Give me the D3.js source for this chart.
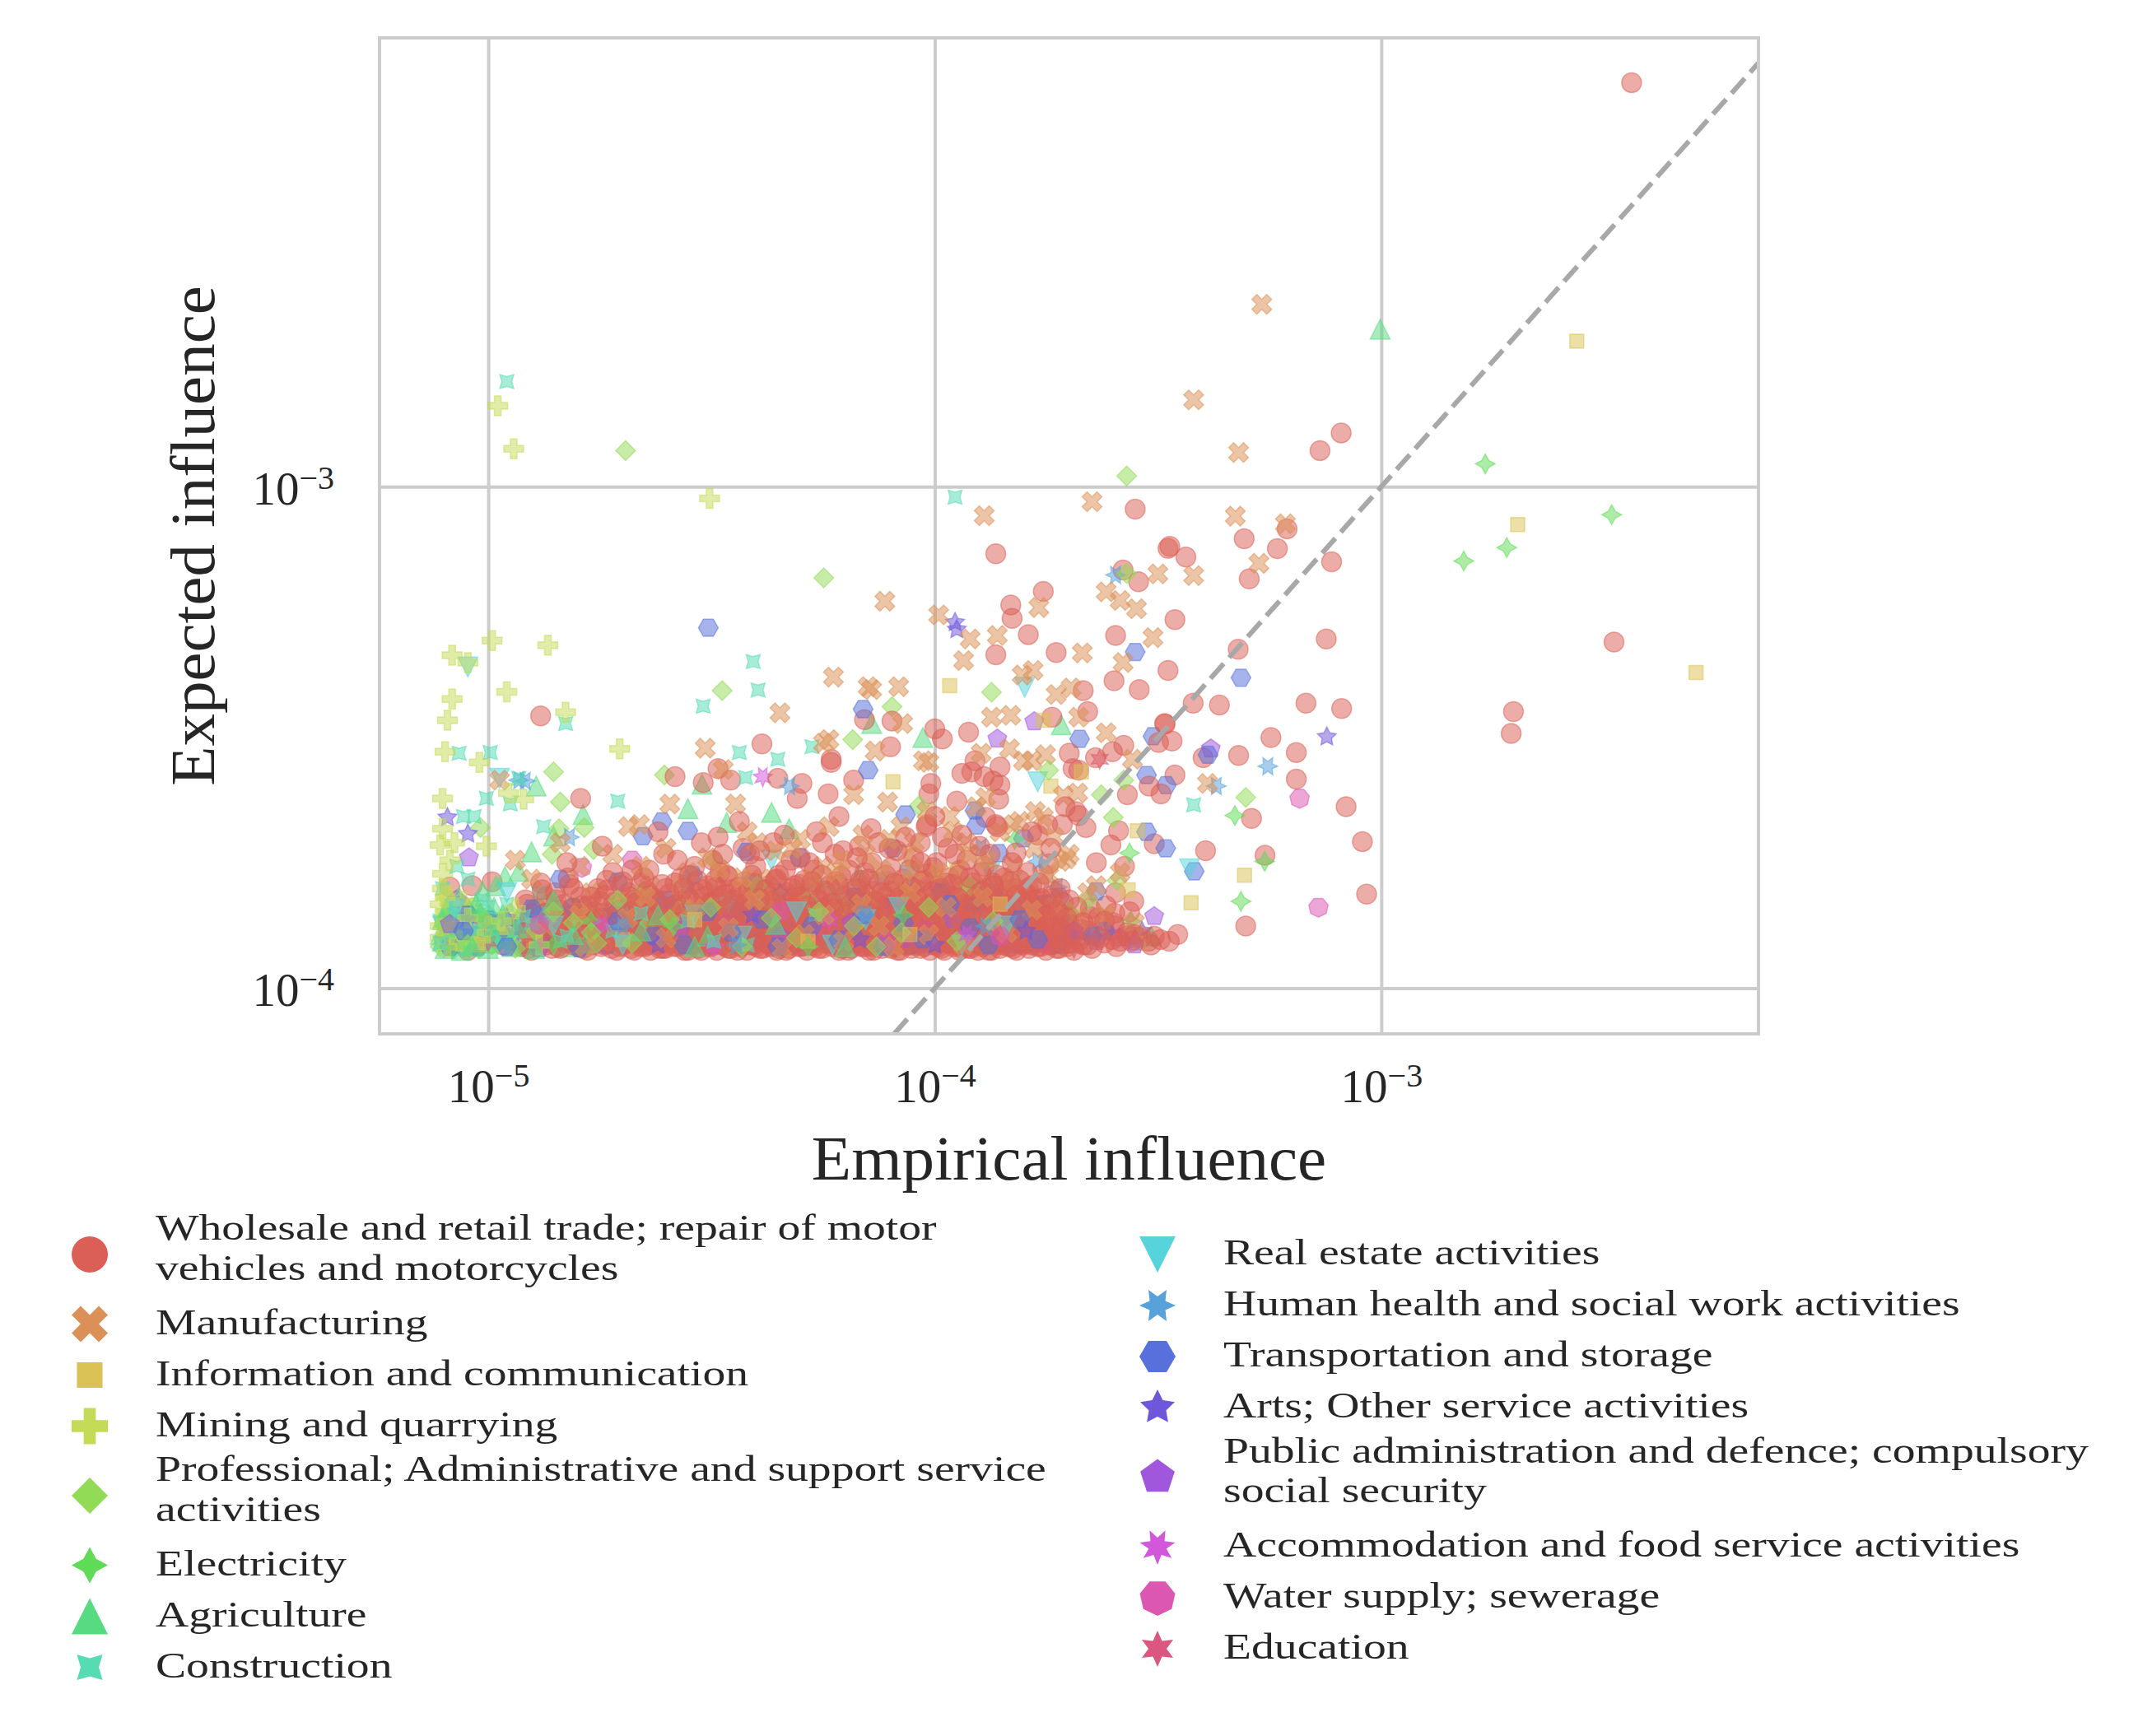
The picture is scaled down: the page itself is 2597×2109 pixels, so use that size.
<!DOCTYPE html>
<html>
<head>
<meta charset="utf-8">
<script src="https://cdn.jsdelivr.net/npm/d3@7"></script>
<style>
body { margin: 0; background: #fff; }
text { font-family: "Liberation Serif", "DejaVu Serif", serif; fill: #262626; }
</style>
</head>
<body>
<script>
// values
// each point is [empirical influence in units of 1e-5, expected influence in units of 1e-4]
const wholesale = [
  [363.6,63.9],[81.3,12.8],[72.9,11.8],[28.1,9.02],[61.5,8.24],[49.3,7.87],[58.5,7.52],[77.4,7.08],[13.7,7.35],
  [33.6,7.60],[33.3,7.53],[36.5,7.24],[50.6,6.55],[26.4,6.82],[28.6,6.46],[17.5,6.18],[14.8,5.81],[14.9,5.46],
  [34.5,5.43],[16.2,5.07],[25.4,5.05],[13.7,4.62],[18.7,4.67],[75.3,4.97],[47.8,4.74],[33.3,4.30],[25.2,4.10],
  [28.7,3.94],[21.5,3.92],[332,4.90],[197.7,3.56],[195.4,3.22],[37.9,3.70],[43.4,3.67],[67.8,3.70],[81.5,3.61],
  [32.8,3.36],[22.0,3.56],[18.3,3.47],
  [56.6,3.16],[64.5,2.95],[64.5,2.61],[47.9,2.91],[39.9,2.88],[83.4,2.30],[51.2,2.18],[90.7,1.96],[92.7,1.54],
  [49.7,1.33],[40.4,1.88],[54.9,1.84],[32.7,3.37],[31.7,3.09],[34.0,3.11],[26.5,3.05],[25.0,2.96],[22.9,2.88],
  [20.0,2.94],[20.4,2.74],[21.0,2.72],[34.5,2.66],[30.2,2.53],[32.1,2.44],[27.0,2.43],[25.8,2.06],[24.8,1.93],
  [31.0,1.94],[26.6,1.75],[23.0,1.78],[25.4,1.55],[27.9,1.49],[24.2,1.46],[25.3,1.41],[25.1,1.35],[26.9,1.27],
  [30.1,1.24],[22.3,1.44],[22.3,1.39],[20.7,2.25],[21.0,2.21],[21.8,2.09],[19.3,2.12],[17.9,2.12],[17.0,2.02],
  [17.5,1.69],[18.0,1.77],[17.3,1.51],[16.2,1.50],[17.6,1.40],[16.4,1.34],[16.8,1.25],[20.0,1.39],[14.4,1.23],
  [11.9,3.24],[10.4,3.14],[10.0,3.29],[11.5,2.68],[12.1,2.70],[12.3,2.84],[14.0,2.76],[12.9,2.64],[13.5,2.59],
  [14.0,2.54],[13.9,2.38],[9.8,2.56],[9.7,2.44],[11.2,2.36],[9.6,2.12],[13.7,2.12],[13.0,2.19],
  [1.31,3.49],[4.10,3.07],[1.61,2.39],[2.62,2.64],[3.03,2.57],[3.27,2.74],[3.49,2.60],[4.45,2.62],[5.04,2.56],
  [4.92,2.39],[6.58,2.60],[5.77,2.44],[7.96,3.03],[5.86,2.86],[5.86,2.82],[6.96,3.43],[8.02,3.41],
  [0.82,1.59],[0.92,1.60],[1.02,1.63],[0.87,1.46],[0.80,1.25],[0.95,1.34],[1.08,1.22],
  [0.90,1.19],[2.80,1.19],[7.30,1.19],[12.5,1.19],
  [1.19,1.21],[1.22,1.27],[1.18,1.36],[1.21,1.50],[1.29,1.24],[1.32,1.31],[1.28,1.44],[1.31,1.62],
  [1.39,1.20],[1.42,1.28],[1.38,1.39],[1.41,1.55],[1.49,1.23],[1.52,1.33],[1.48,1.47],[1.51,1.66],
  [1.59,1.21],[1.62,1.26],[1.58,1.37],[1.61,1.52],[1.74,1.24],[1.77,1.30],[1.73,1.42],[1.76,1.58],
  [1.89,1.20],[1.92,1.27],[1.88,1.35],[1.91,1.48],[1.90,1.70],[2.04,1.23],[2.07,1.31],[2.03,1.40],[2.06,1.55],
  [2.19,1.21],[2.22,1.26],[2.18,1.34],[2.21,1.45],[2.20,1.62],[2.34,1.24],[2.37,1.29],[2.33,1.38],[2.36,1.51],
  [2.49,1.20],[2.52,1.27],[2.48,1.33],[2.51,1.43],[2.50,1.58],[2.47,1.85],
  [2.69,1.22],[2.72,1.30],[2.68,1.37],[2.71,1.49],[2.70,1.66],[2.89,1.25],[2.92,1.32],[2.88,1.41],[2.91,1.55],[2.90,1.75],
  [3.09,1.21],[3.12,1.28],[3.08,1.36],[3.11,1.46],[3.10,1.60],[3.29,1.23],[3.32,1.30],[3.28,1.39],[3.31,1.52],[3.30,1.70],[3.27,2.00],
  [3.49,1.20],[3.52,1.26],[3.48,1.34],[3.51,1.44],[3.50,1.57],[3.74,1.24],[3.77,1.31],[3.73,1.38],[3.76,1.49],[3.75,1.63],[3.72,1.90],
  [3.99,1.21],[4.02,1.27],[3.98,1.35],[4.01,1.42],[4.00,1.55],[3.97,1.75],[4.24,1.23],[4.27,1.30],[4.23,1.37],[4.26,1.47],[4.25,1.60],
  [4.49,1.20],[4.52,1.26],[4.48,1.33],[4.51,1.40],[4.50,1.52],[4.47,1.68],[4.79,1.22],[4.82,1.29],[4.78,1.36],[4.81,1.45],[4.80,1.58],[4.77,1.80],
  [5.09,1.25],[5.12,1.31],[5.08,1.39],[5.11,1.50],[5.10,1.64],[5.39,1.21],[5.42,1.27],[5.38,1.34],[5.41,1.43],[5.40,1.55],[5.37,1.72],[5.43,2.05],
  [5.79,1.23],[5.82,1.30],[5.78,1.37],[5.81,1.47],[5.80,1.60],[6.19,1.20],[6.22,1.26],[6.18,1.33],[6.21,1.41],[6.20,1.52],[6.17,1.67],[6.23,1.88],
  [6.59,1.24],[6.62,1.29],[6.58,1.36],[6.61,1.45],[6.60,1.57],[6.99,1.21],[7.02,1.28],[6.98,1.35],[7.01,1.42],[7.00,1.54],[6.97,1.70],
  [7.49,1.23],[7.52,1.31],[7.48,1.38],[7.51,1.48],[7.50,1.62],[7.47,1.95],[7.99,1.20],[8.02,1.27],[7.98,1.34],[8.01,1.44],[8.00,1.56],[7.97,1.74],
  [8.49,1.25],[8.52,1.30],[8.48,1.37],[8.51,1.50],[8.50,1.65],[8.99,1.22],[9.02,1.28],[8.98,1.35],[9.01,1.46],[9.00,1.58],[8.97,1.82],
  [9.59,1.24],[9.62,1.32],[9.58,1.40],[9.61,1.53],[9.60,1.69],[9.57,2.10],
  [10.2,1.21],[10.3,1.27],[10.1,1.36],[10.2,1.45],[10.2,1.60],[10.1,1.78],[10.8,1.23],[10.9,1.30],[10.7,1.39],[10.8,1.50],[10.8,1.66],[10.7,1.90],
  [11.5,1.20],[11.6,1.26],[11.4,1.34],[11.5,1.43],[11.5,1.56],[11.4,1.72],[12.2,1.24],[12.3,1.31],[12.1,1.38],[12.2,1.49],[12.2,1.62],
  [13.0,1.22],[13.1,1.28],[12.9,1.36],[13.0,1.46],[13.0,1.58],[12.9,1.75],[13.8,1.25],[13.9,1.32],[13.7,1.41],[13.8,1.53],[13.8,1.68],
  [14.6,1.21],[14.7,1.27],[14.5,1.35],[14.6,1.44],[14.6,1.57],[15.5,1.23],[15.6,1.30],[15.4,1.39],[15.5,1.50],[15.5,1.64],
  [16.5,1.22],[16.6,1.28],[16.4,1.37],[16.5,1.47],[16.5,1.60],[17.5,1.25],[17.6,1.33],[17.4,1.42],
  [18.5,1.23],[18.6,1.30],[18.4,1.56],[19.5,1.26],[19.6,1.36],[19.4,1.48],[21.0,1.24],[21.2,1.31],[20.8,1.45],
  [23.0,1.27],[23.2,1.38],[25.0,1.25],[25.3,1.33],[27.0,1.29],[27.3,1.42],[29.0,1.26],[32.0,1.25],[35.0,1.28],
  [1.25,1.19],[1.26,1.25],[1.24,1.33],[1.25,1.41],[1.35,1.22],[1.36,1.29],[1.34,1.35],[1.35,1.52],
  [1.45,1.20],[1.46,1.26],[1.44,1.36],[1.45,1.43],[1.55,1.22],[1.56,1.30],[1.54,1.40],[1.55,1.58],
  [1.67,1.19],[1.68,1.24],[1.66,1.33],[1.67,1.46],[1.82,1.22],[1.83,1.28],[1.81,1.38],[1.82,1.53],[1.84,1.64],
  [1.97,1.21],[1.98,1.25],[1.96,1.33],[1.97,1.43],[1.99,1.60],[2.12,1.19],[2.13,1.29],[2.11,1.37],[2.12,1.50],
  [2.27,1.22],[2.28,1.31],[2.26,1.41],[2.27,1.56],[2.29,1.72],[2.42,1.20],[2.43,1.25],[2.41,1.36],[2.42,1.47],
  [2.60,1.21],[2.61,1.28],[2.59,1.35],[2.60,1.46],[2.62,1.62],[2.80,1.23],[2.81,1.27],[2.79,1.39],[2.80,1.52],[2.82,1.68],
  [3.00,1.19],[3.01,1.26],[3.00,1.33],[2.99,1.43],[3.02,1.57],[3.20,1.22],[3.21,1.29],[3.19,1.37],[3.20,1.49],[3.22,1.64],[3.18,1.80],
  [3.40,1.21],[3.41,1.28],[3.39,1.40],[3.40,1.54],[3.42,1.68],[3.62,1.19],[3.63,1.27],[3.61,1.34],[3.62,1.46],[3.64,1.59],
  [3.87,1.22],[3.88,1.29],[3.86,1.39],[3.87,1.52],[3.89,1.68],[3.85,1.85],[4.12,1.20],[4.13,1.25],[4.11,1.32],[4.12,1.44],[4.14,1.57],
  [4.37,1.22],[4.38,1.28],[4.36,1.39],[4.37,1.50],[4.39,1.64],[4.35,1.95],[4.65,1.19],[4.66,1.24],[4.64,1.31],[4.65,1.42],[4.67,1.55],[4.63,1.72],
  [4.95,1.21],[4.96,1.27],[4.94,1.37],[4.95,1.48],[4.97,1.61],[5.25,1.23],[5.26,1.29],[5.24,1.36],[5.25,1.46],[5.27,1.58],[5.23,1.78],
  [5.60,1.20],[5.61,1.25],[5.59,1.33],[5.60,1.44],[5.62,1.53],[5.58,1.68],[6.00,1.22],[6.01,1.28],[5.99,1.35],[6.00,1.48],[6.02,1.63],[5.98,1.85],
  [6.40,1.19],[6.41,1.27],[6.39,1.38],[6.40,1.50],[6.42,1.72],[6.80,1.23],[6.81,1.31],[6.79,1.39],[6.80,1.49],[6.82,1.64],[6.78,1.92],
  [7.25,1.21],[7.26,1.26],[7.24,1.33],[7.25,1.45],[7.27,1.56],[7.23,1.78],[7.75,1.22],[7.76,1.29],[7.74,1.41],[7.75,1.52],[7.77,1.68],
  [8.25,1.19],[8.26,1.24],[8.24,1.32],[8.25,1.47],[8.27,1.61],[8.23,1.88],[8.75,1.22],[8.76,1.27],[8.74,1.40],[8.75,1.54],[8.77,1.72],
  [9.30,1.20],[9.31,1.26],[9.29,1.37],[9.30,1.49],[9.32,1.63],[9.28,1.95],[9.90,1.22],[9.91,1.30],[9.89,1.42],[9.90,1.56],[9.92,1.74],
  [10.5,1.19],[10.5,1.25],[10.5,1.33],[10.5,1.48],[10.6,1.62],[10.4,2.00],[11.2,1.22],[11.2,1.29],[11.2,1.40],[11.2,1.52],[11.3,1.68],[11.1,1.85],
  [11.9,1.20],[11.9,1.27],[11.9,1.35],[11.9,1.46],[12.0,1.59],[11.8,1.80],[12.6,1.22],[12.6,1.29],[12.6,1.42],[12.6,1.55],[12.7,1.70],
  [13.4,1.19],[13.4,1.26],[13.4,1.34],[13.4,1.49],[13.5,1.62],[13.3,1.85],[14.2,1.22],[14.2,1.30],[14.2,1.39],[14.2,1.52],[14.3,1.66],
  [15.0,1.20],[15.0,1.27],[15.0,1.35],[15.0,1.45],[15.1,1.58],[14.9,1.78],[16.0,1.23],[16.0,1.31],[16.0,1.42],[16.0,1.55],[16.1,1.70],
  [17.0,1.21],[17.0,1.28],[17.0,1.36],[17.0,1.50],[17.1,1.62],[18.0,1.22],[18.0,1.27],[18.0,1.38],[18.0,1.47],
  [19.0,1.20],[19.0,1.29],[19.0,1.41],[19.1,1.58],[20.0,1.23],[20.0,1.34],[20.0,1.50],
  [22.0,1.22],[22.0,1.30],[24.0,1.23],[24.0,1.36],[26.0,1.24],[28.0,1.28],[30.5,1.22],[33.5,1.24],
  [1.23,1.20],[1.23,1.29],[1.24,1.38],[1.22,1.47],[1.33,1.23],[1.33,1.32],[1.34,1.41],[1.32,1.57],
  [1.43,1.21],[1.43,1.31],[1.44,1.34],[1.42,1.50],[1.53,1.24],[1.53,1.27],[1.54,1.44],[1.52,1.61],
  [1.63,1.20],[1.63,1.30],[1.64,1.39],[1.62,1.46],[1.71,1.22],[1.71,1.33],[1.72,1.36],[1.70,1.52],
  [1.79,1.21],[1.79,1.26],[1.80,1.41],[1.78,1.49],[1.86,1.24],[1.86,1.31],[1.87,1.37],[1.85,1.57],
  [1.94,1.19],[1.94,1.29],[1.95,1.39],[1.93,1.46],[2.01,1.22],[2.01,1.27],[2.02,1.35],[2.00,1.63],
  [2.09,1.20],[2.09,1.32],[2.10,1.42],[2.08,1.52],[2.16,1.23],[2.16,1.28],[2.17,1.38],[2.15,1.48],
  [2.24,1.21],[2.24,1.30],[2.25,1.36],[2.23,1.66],[2.31,1.19],[2.31,1.26],[2.32,1.43],[2.30,1.53],
  [2.39,1.22],[2.39,1.33],[2.40,1.40],[2.38,1.49],[2.46,1.20],[2.46,1.29],[2.47,1.37],[2.45,1.61],
  [2.55,1.23],[2.55,1.31],[2.56,1.44],[2.54,1.54],[2.65,1.21],[2.65,1.27],[2.66,1.35],[2.64,1.47],
  [2.75,1.19],[2.75,1.32],[2.76,1.41],[2.74,1.58],[2.85,1.22],[2.85,1.28],[2.86,1.37],[2.84,1.50],
  [2.95,1.20],[2.95,1.30],[2.96,1.43],[2.94,1.64],[3.05,1.23],[3.05,1.26],[3.06,1.39],[3.04,1.52],
  [3.15,1.21],[3.15,1.33],[3.16,1.35],[3.14,1.48],[3.25,1.19],[3.25,1.27],[3.26,1.42],[3.24,1.59],
  [3.35,1.22],[3.35,1.31],[3.36,1.38],[3.34,1.53],[3.45,1.20],[3.45,1.28],[3.46,1.45],[3.44,1.67],
  [3.56,1.23],[3.56,1.32],[3.57,1.36],[3.55,1.50],[3.68,1.21],[3.68,1.26],[3.69,1.41],[3.67,1.55],
  [3.80,1.19],[3.80,1.30],[3.81,1.37],[3.79,1.47],[3.93,1.22],[3.93,1.33],[3.94,1.43],[3.92,1.62],
  [4.06,1.20],[4.06,1.28],[4.07,1.39],[4.05,1.51],[4.19,1.23],[4.19,1.31],[4.20,1.35],[4.18,1.57],
  [4.31,1.21],[4.31,1.27],[4.32,1.44],[4.30,1.49],[4.43,1.19],[4.43,1.32],[4.44,1.38],[4.42,1.65],
  [4.57,1.22],[4.57,1.29],[4.58,1.41],[4.56,1.53],[4.72,1.20],[4.72,1.26],[4.73,1.36],[4.71,1.48],
  [4.87,1.23],[4.87,1.33],[4.88,1.43],[4.86,1.60],[5.02,1.21],[5.02,1.28],[5.03,1.38],[5.01,1.52],
  [5.17,1.19],[5.17,1.30],[5.18,1.35],[5.16,1.46],[5.32,1.22],[5.32,1.26],[5.33,1.42],[5.31,1.63],
  [5.50,1.20],[5.50,1.32],[5.51,1.39],[5.49,1.50],[5.70,1.23],[5.70,1.28],[5.71,1.36],[5.69,1.56],
  [5.90,1.21],[5.90,1.31],[5.91,1.44],[5.89,1.48],[6.10,1.19],[6.10,1.27],[6.11,1.37],[6.09,1.61],
  [6.30,1.22],[6.30,1.33],[6.31,1.40],[6.29,1.53],[6.50,1.20],[6.50,1.29],[6.51,1.35],[6.49,1.47],
  [6.70,1.23],[6.70,1.26],[6.71,1.43],[6.69,1.58],[6.90,1.21],[6.90,1.32],[6.91,1.38],[6.89,1.51],
  [7.12,1.19],[7.12,1.28],[7.13,1.41],[7.11,1.65],[7.37,1.22],[7.37,1.30],[7.38,1.36],[7.36,1.49],
  [7.62,1.20],[7.62,1.27],[7.63,1.44],[7.61,1.55],[7.87,1.23],[7.87,1.33],[7.88,1.39],[7.86,1.47],
  [8.12,1.21],[8.12,1.29],[8.13,1.35],[8.11,1.62],[8.37,1.19],[8.37,1.26],[8.38,1.42],[8.36,1.52],
  [8.62,1.22],[8.62,1.31],[8.63,1.37],[8.61,1.48],[8.87,1.20],[8.87,1.28],[8.88,1.43],[8.86,1.59],
  [9.15,1.23],[9.15,1.32],[9.16,1.38],[9.14,1.50],[9.45,1.21],[9.45,1.27],[9.46,1.41],[9.44,1.64],
  [9.75,1.19],[9.75,1.30],[9.76,1.36],[9.74,1.47],[10.05,1.22],[10.05,1.33],[10.1,1.44],[10.0,1.53],
  [10.35,1.20],[10.35,1.28],[10.4,1.39],[10.3,1.58],[10.65,1.23],[10.65,1.26],[10.7,1.35],[10.6,1.49],
  [11.0,1.21],[11.0,1.31],[11.05,1.42],[10.95,1.61],[11.35,1.19],[11.35,1.29],[11.4,1.37],[11.3,1.51],
  [11.7,1.22],[11.7,1.27],[11.75,1.43],[11.65,1.47],[12.05,1.20],[12.05,1.32],[12.1,1.38],[12.0,1.66],
  [12.4,1.23],[12.4,1.30],[12.45,1.36],[12.35,1.52],[12.8,1.21],[12.8,1.26],[12.85,1.41],[12.75,1.56],
  [13.2,1.19],[13.2,1.33],[13.25,1.39],[13.15,1.48],[13.6,1.22],[13.6,1.28],[13.65,1.44],[13.55,1.60],
  [14.0,1.20],[14.0,1.31],[14.05,1.35],[13.95,1.51],[14.4,1.23],[14.4,1.27],[14.45,1.42],[14.35,1.47],
  [14.8,1.21],[14.8,1.32],[14.85,1.38],[14.75,1.63],[15.25,1.19],[15.25,1.29],[15.3,1.43],[15.2,1.53],
  [15.75,1.22],[15.75,1.26],[15.8,1.36],[15.7,1.48],[16.25,1.20],[16.25,1.33],[16.3,1.40],[16.2,1.58],
  [16.75,1.23],[16.75,1.28],[16.8,1.37],[16.7,1.50],[17.25,1.21],[17.25,1.30],[17.3,1.44],
  [17.75,1.19],[17.75,1.27],[17.8,1.39],[18.25,1.22],[18.25,1.32],[18.3,1.51],[18.75,1.20],[18.75,1.26],[18.8,1.43],
  [19.25,1.23],[19.25,1.31],[19.75,1.21],[19.75,1.38],[20.5,1.19],[20.5,1.28],[21.5,1.22],[21.5,1.35],
  [22.5,1.20],[23.5,1.26],[25.5,1.21],[27.5,1.24],[31.0,1.27],
  [1.5,1.78],[1.8,1.92],[2.1,1.72],[2.4,2.05],[2.65,1.80],[3.0,1.95],[3.35,1.85],[3.65,2.15],[4.05,1.88],
  [4.6,2.02],[5.0,1.82],[5.6,1.95],[6.1,2.20],[6.7,1.82],[7.2,2.08],[7.9,1.90],[8.6,2.00],[9.3,1.78],
  [10.0,2.20],[11.5,2.02],[12.6,1.92],[13.8,2.10],[15.2,1.86],[16.5,2.05],[18.2,1.90],[19.6,2.30]
]
const manufacturing = [
  [54.0,23.1],[38.0,14.9],[47.9,11.7],[12.9,8.75],[22.5,9.33],[47.1,8.73],[61.0,8.43],[53.2,7.03],[31.6,6.70],
  [38.0,6.65],[24.2,6.17],[26.0,5.93],[28.3,5.71],[17.1,5.74],[10.2,5.55],[12.0,4.97],[13.8,5.05],[30.8,5.00],
  [11.6,4.50],[21.4,4.66],[26.4,4.46],[16.6,4.30],[15.7,4.21],[18.7,3.85],[20.2,3.97],
  [13.4,3.47],[14.8,3.50],[21.0,3.47],[24.2,3.23],[12.7,2.94],[14.7,3.00],[15.8,2.84],[16.5,2.84],[17.7,2.92],
  [9.7,2.82],[27.7,2.86],[40.8,2.56],[19.4,2.42],[20.9,2.45],[15.0,2.12],[17.5,2.19],[19.7,1.81],[19.1,1.79],[19.9,1.32],
  [3.06,3.01],[4.50,3.54],[5.93,4.17],[7.09,3.99],[7.22,3.94],[8.30,3.99],[7.73,5.91],[8.47,3.37],[7.35,2.97],
  [5.79,3.13],[5.63,3.08],[2.55,2.33],[1.06,2.60],[3.36,2.73],[3.58,2.33],[2.18,2.12],[2.06,2.10],[6.58,2.43],
  [7.84,2.35],[9.43,2.84],
  [1.1,1.25],[1.3,1.42],[1.5,1.29],[1.7,1.55],[1.8,1.36],[2.0,1.48],[2.1,1.27],[2.3,1.60],[2.4,1.34],[2.6,1.45],
  [2.8,1.28],[2.8,1.70],[3.0,1.38],[3.2,1.56],[3.4,1.25],[3.6,1.47],[3.9,1.33],[4.1,1.65],[4.3,1.42],[4.6,1.28],
  [4.9,1.53],[5.2,1.36],[5.6,1.75],[5.9,1.45],[6.4,1.30],[6.8,1.60],[7.2,1.40],[7.7,1.26],[8.2,1.52],[8.7,1.85],
  [9.3,1.38],[9.9,1.66],[10.5,1.30],[11.2,1.48],[11.8,1.95],[12.6,1.42],[13.4,1.62],[14.2,1.33],[15.0,1.75],
  [16.0,1.52],[17.0,1.40],[18.0,1.68],[19.0,1.32],[20.0,1.85],[22.0,1.55],[24.0,1.40],[26.0,1.70],[28.0,1.35],
  [2.5,1.90],[3.1,1.82],[3.8,2.05],[4.4,1.88],[5.0,1.98],[6.2,1.80],[6.9,2.02],[7.6,1.72],[8.4,2.10],[9.0,1.95],
  [1.6,1.75],[1.25,1.65],[10.8,2.20],[12.4,2.30],[14.0,2.05],[16.8,2.25],[1.15,1.80],[1.45,1.95],[1.9,1.85],
  [1.35,1.33],[1.6,1.40],[1.9,1.24],[2.15,1.45],[2.45,1.22],[2.7,1.58],[2.95,1.30],[3.25,1.45],[3.55,1.22],
  [3.85,1.58],[4.15,1.36],[4.4,1.52],[4.7,1.24],[5.0,1.41],[5.3,1.65],[5.7,1.32],[6.1,1.55],[6.6,1.40],[7.0,1.85],
  [7.4,1.50],[7.9,1.38],[8.4,1.62],[8.9,1.30],[9.5,1.50],[10.2,1.70],[10.9,1.40],[11.6,1.58],[12.3,1.36],[13.1,1.80],
  [13.9,1.47],[14.8,1.62],[15.7,1.38],[16.7,1.90],[18.5,1.45],[21.0,1.38],[23.0,1.60],[4.0,1.95],[5.8,2.10],
  [3.3,1.72],[2.2,1.75],[9.6,2.25],[11.0,2.05],[13.0,2.40],[15.5,2.15],[18.5,2.00],
  [1.65,1.21],[2.05,1.38],[2.5,1.26],[2.9,1.44],[3.45,1.32],[3.95,1.50],[4.55,1.20],[5.1,1.28],[5.65,1.40],
  [6.25,1.24],[6.85,1.47],[7.5,1.33],[8.1,1.21],[8.8,1.55],[9.7,1.28],[10.6,1.45],[11.6,1.22],[12.8,1.52],
  [14.5,1.29],[16.5,1.43],[2.25,1.52],[3.7,1.66],[6.0,1.70],[9.0,1.72],[12.0,1.85],[4.8,1.90],[7.9,1.98]
]
const information = [
  [274,19.5],[202,8.40],[507,4.26],[10.8,4.01],[17.5,3.42],[18.2,2.53],[21.3,2.70],[28.4,2.06],[49.4,1.68],
  [37.5,1.48],[27.1,1.57],[15.4,1.25],[13.1,1.42],[28.6,1.23],[11.2,1.72],[8.06,2.58],[6.0,1.27],[2.6,1.36],
  [12.0,1.30],[4.2,1.50],[1.6,1.43],[1.1,1.32],[2.0,1.25],[3.6,1.24],[7.0,1.35],[9.8,1.40],[16.0,1.36],
  [0.95,1.22],[2.9,1.37],[5.2,1.24],[8.8,1.28],[14.0,1.47]
]
const mining = [
  [1.05,14.5],[1.14,11.9],[3.13,9.47],[0.83,4.61],[0.90,4.46],[1.02,4.93],[1.36,4.83],[0.83,3.77],[1.10,3.90],
  [0.81,3.42],[1.49,3.55],[0.80,2.96],[0.955,2.82],[1.97,3.00],[0.79,2.39],[1.11,2.45],[1.20,2.38],[0.79,2.08],
  [0.78,1.93],[0.84,1.95],[0.99,1.92],[0.79,1.69],[0.78,1.47],[2.67,1.42],[1.24,1.26],[0.80,1.35],[0.85,1.22],
  [0.92,1.28],[0.79,1.58],[0.82,1.80],[0.78,1.26],[0.80,1.42],[0.83,1.30],[0.88,1.49],[1.0,1.33],[1.3,1.22],[0.81,1.21],
  [0.78,1.33],[0.82,1.48],[0.86,1.24],[0.9,1.38],[0.96,1.25],[1.07,1.36],[1.15,1.44],[0.8,1.52]
]
const professional = [
  [2.03,11.8],[26.9,10.5],[13.4,3.89],[26.9,6.71],[49.7,2.40],[5.64,6.58],[3.34,3.92],[8.02,3.64],[6.55,3.13],
  [1.40,2.70],[2.48,2.66],[1.45,2.35],[1.64,2.09],[1.44,2.08],[0.96,2.09],[1.39,1.85],[1.72,1.89],[3.21,1.80],
  [9.22,2.31],[18.0,2.72],[23.6,2.43],[26.5,2.60],[25.1,2.19],[25.6,1.64],[22.0,1.50],[13.5,1.25],
  [0.82,1.24],[0.88,1.31],[0.95,1.20],[1.0,1.40],[1.08,1.27],[1.18,1.35],[1.25,1.22],[1.35,1.48],[1.45,1.30],
  [1.6,1.25],[1.7,1.42],[1.85,1.33],[2.0,1.21],[2.2,1.55],[2.4,1.28],[2.6,1.40],[2.9,1.24],[3.2,1.35],[3.5,1.50],
  [3.8,1.27],[4.2,1.45],[4.6,1.22],[5.0,1.32],[5.5,1.60],[6.0,1.38],[6.5,1.24],[7.2,1.47],[7.8,1.30],[8.6,1.42],
  [9.5,1.25],[10.5,1.55],[11.5,1.36],[13.0,1.28],[14.5,1.46],[16.0,1.33],[18.0,1.25],[20.0,1.42],
  [0.78,1.21],[0.85,1.38],[0.92,1.45],[1.02,1.22],[1.12,1.41],[1.28,1.30],[1.55,1.35],[1.75,1.23],[1.95,1.50],
  [2.3,1.35],[2.75,1.45],[3.05,1.28],[3.45,1.22],[4.0,1.60],[4.4,1.30],[5.2,1.50],[5.7,1.22],[6.3,1.45],[7.0,1.29],
  [8.2,1.38],[9.2,1.27],[10.8,1.35],[12.0,1.60],[15.5,1.26],
  [1.15,1.20],[1.4,1.42],[1.7,1.29],[2.1,1.23],[2.55,1.37],[3.15,1.45],[3.7,1.21],[4.3,1.38],[4.9,1.26],
  [5.5,1.42],[6.6,1.33],[7.4,1.21],[8.4,1.29],[9.7,1.45],[11.2,1.24],[13.5,1.36],[0.8,1.33],[0.9,1.22],[0.98,1.37]
]
const electricity = [
  [171,11.1],[328,8.79],[191,7.56],[153,7.11],[47.0,2.21],[54.8,1.79],[48.5,1.49],[27.3,1.86],[27.5,1.36],
  [15.1,1.98],[1.3,1.30],[3.0,1.45],[6.0,1.33],[12.0,1.50],[0.9,1.26],[2.2,1.22],
  [0.80,1.38],[1.05,1.22],[1.7,1.36],[4.6,1.40],[9.0,1.30],
  [0.83,1.20],[0.96,1.41],[1.4,1.22],[2.6,1.33],[5.2,1.21],[8.5,1.40]
]
const agriculture = [
  [99.4,20.6],[19.2,3.35],[9.4,3.16],[7.22,3.37],[1.28,2.53],[1.63,2.22],[3.01,2.55],[1.40,2.01],[1.25,1.87],
  [3.42,2.14],[4.31,2.24],[4.72,2.08],[2.80,2.28],[1.09,1.67],[1.17,1.71],[1.04,1.60],[0.97,1.56],[6.77,1.68],
  [30.5,1.27],
  [0.80,1.20],[0.84,1.27],[0.88,1.22],[0.93,1.33],[0.98,1.23],[1.03,1.45],[1.10,1.29],[1.20,1.24],[1.32,1.38],
  [1.50,1.21],[1.80,1.28],[2.10,1.36],[2.70,1.25],[3.60,1.31],[4.80,1.26],[6.80,1.40],[9.00,1.22],[11.0,1.45],
  [0.82,1.40],[0.86,1.52],[0.79,1.24],[0.81,1.31],
  [0.78,1.28],[0.83,1.35],[0.87,1.19],[0.91,1.43],[0.95,1.29],[1.0,1.20],[1.06,1.34],[1.13,1.21],[1.4,1.50],
  [1.65,1.23],[2.4,1.40],[3.1,1.27],[4.1,1.48],[5.5,1.26],[8.0,1.36],[13.0,1.24],
  [0.79,1.37],[0.85,1.31],[0.89,1.26],[0.94,1.47],[1.02,1.30],[1.08,1.40],[1.16,1.32],[1.27,1.20],[1.55,1.28],
  [2.2,1.30],[2.9,1.21],[4.4,1.34],[6.3,1.21],[0.81,1.45],[0.92,1.21]
]
const construction = [
  [1.10,16.2],[11.1,9.53],[38.0,2.32],[3.92,4.48],[4.02,3.93],[3.03,3.65],[1.49,3.37],[0.86,2.94],[1.01,2.95],
  [3.65,2.95],[4.45,2.86],[5.31,3.03],[3.77,2.63],[1.95,2.36],[0.99,2.39],[1.12,2.33],[1.33,2.10],[0.88,2.20],
  [0.93,2.20],[1.17,2.62],
  [0.80,1.30],[0.83,1.45],[0.87,1.36],[0.92,1.24],[0.97,1.50],[1.05,1.38],[1.15,1.27],[1.30,1.55],[1.60,1.33],
  [2.00,1.44],[2.50,1.30],[3.40,1.40],[4.50,1.33],[6.00,1.55],[0.79,1.58],[0.85,1.75],[0.90,1.65],
  [0.78,1.36],[0.82,1.19],[0.86,1.29],[0.95,1.40],[1.02,1.25],[1.1,1.47],[1.25,1.35],[1.45,1.24],[1.9,1.30],
  [2.8,1.36],[3.8,1.22],[5.4,1.40],[7.6,1.27],
  [0.78,1.23],[0.84,1.40],[0.89,1.20],[0.94,1.31],[1.0,1.45],[1.08,1.23],[1.2,1.39],[1.5,1.27],[2.2,1.41],[3.2,1.24]
]
const realEstate = [
  [0.90,4.37],[1.06,2.62],[15.9,3.98],[17.0,2.58],[37.2,1.73],[13.3,1.70],[4.31,1.80],[7.56,1.63],
  [0.82,1.28],[1.10,1.55],[1.60,1.27],[2.30,1.45],[3.00,1.22],[3.90,1.60],[5.20,1.35],[7.30,1.25],[8.80,1.68],
  [10.5,1.28],[13.5,1.40],[0.79,1.33],[0.88,1.25],[0.97,1.36],[1.25,1.28],[1.9,1.38],[2.6,1.28],[3.4,1.45],
  [4.4,1.24],[6.2,1.30],[9.8,1.24],[12.5,1.36],[16.5,1.26],
  [1.4,1.33],[2.0,1.22],[2.9,1.40],[3.7,1.27],[4.9,1.42],[5.9,1.22],[7.0,1.37],[8.3,1.45],[11.5,1.22],[14.5,1.33],[0.84,1.44]
]
const health = [
  [25.4,6.67],[55.7,2.77],[42.7,2.53],[17.0,1.79],[18.8,1.59],[15.8,1.42],[12.7,1.91],[1.17,2.60],[1.21,2.59],
  [1.52,2.00],[4.73,2.53],[1.00,1.30],[2.30,1.25],[4.00,1.38],[8.00,1.30],[12.0,1.40],[0.88,1.42],
  [0.8,1.27],[1.3,1.40],[3.0,1.30],[5.8,1.25],[10.5,1.33],[15.5,1.45],
  [0.9,1.32],[2.0,1.33],[3.6,1.22],[7.0,1.40],[13.0,1.33]
]
const transportation = [
  [3.11,5.23],[28.1,4.68],[48.5,4.16],[21.1,3.14],[30.8,3.18],[29.8,2.66],[33.0,2.54],[29.8,2.05],[32.9,1.90],
  [38.1,1.71],[23.0,1.56],[19.0,1.52],[15.8,1.99],[13.9,1.86],[12.3,2.26],[12.4,2.11],[8.97,1.49],[9.9,1.50],
  [40.9,2.92],[2.45,2.15],[2.80,2.06],[2.22,2.01],[7.09,2.72],[6.91,3.60],[8.60,2.22],[8.06,1.90],[4.99,1.82],
  [3.79,1.87],[2.87,1.68],[1.95,1.63],[1.45,1.65],[0.93,1.25],[4.99,1.25],
  [1.2,1.22],[1.7,1.30],[2.0,1.40],[2.6,1.24],[3.3,1.33],[4.2,1.28],[5.6,1.45],[6.3,1.23],[7.5,1.35],[8.3,1.27],
  [10.0,1.38],[11.8,1.24],[13.5,1.55],[15.0,1.30],[17.5,1.47],[20.0,1.26],[24.0,1.30],[0.85,1.33],[0.95,1.21],[1.05,1.28],
  [1.0,1.37],[1.15,1.33],[1.35,1.25],[1.55,1.45],[1.85,1.22],[2.15,1.33],[2.5,1.50],[2.85,1.36],[3.15,1.22],
  [3.6,1.42],[3.95,1.25],[4.6,1.35],[5.1,1.21],[5.9,1.30],[6.6,1.52],[7.1,1.27],[7.9,1.45],[8.8,1.22],[9.6,1.33],
  [10.3,1.55],[11.0,1.26],[12.3,1.45],[14.0,1.24],[16.2,1.40],[18.8,1.22],[22.5,1.27],[0.82,1.21],[0.9,1.40],
  [1.25,1.44],[1.6,1.20],[1.95,1.36],[2.35,1.27],[2.75,1.22],[3.1,1.42],[3.5,1.29],[4.1,1.37],[4.45,1.21],
  [5.3,1.33],[6.1,1.25],[6.9,1.40],[7.7,1.21],[8.5,1.35],[9.4,1.25],[10.8,1.47],[12.0,1.32],[13.2,1.22],
  [15.5,1.37],[17.0,1.25],[0.88,1.30],[1.1,1.21]
]
const arts = [
  [11.1,5.36],[11.2,5.19],[75.5,3.17],[0.81,2.19],[0.90,2.03],[2.79,1.60],[27.9,1.24],[29.1,1.30],
  [1.4,1.26],[3.5,1.35],[6.0,1.29],[9.0,1.44],[14.0,1.22],[20.0,1.33],[4.5,1.55],
  [0.84,1.21],[1.9,1.42],[5.0,1.28],[7.5,1.22],[11.5,1.30],
  [1.1,1.38],[2.4,1.22],[3.9,1.40],[6.8,1.25],[10.0,1.22],[16.0,1.30]
]
const publicAdmin = [
  [16.7,3.40],[13.8,3.14],[41.5,3.00],[31.0,1.39],[25.9,1.26],[10.8,1.24],[0.905,1.82],
  [0.85,1.50],[1.5,1.38],[2.5,1.22],[4.0,1.24],[7.0,1.23],[12.5,1.27],[16.0,1.22],[19.0,1.35],[23.0,1.24],[28.0,1.22],
  [0.95,1.27],[1.8,1.22],[3.3,1.27],[5.6,1.36],[9.2,1.22],[13.8,1.30],
  [1.3,1.20],[2.7,1.32],[4.5,1.27],[6.5,1.35],[8.8,1.25],[11.0,1.37],[15.0,1.22],[20.5,1.30],[0.82,1.34]
]
const accommodation = [[4.12,2.64],[11.1,1.57],[3.8,1.30],[6.5,1.26],[9.5,1.22],[2.0,1.27],[14.0,1.35],
  [1.2,1.28],[4.8,1.22],[8.0,1.40],[18.5,1.24],[1.8,1.34],[3.2,1.21],[5.8,1.37],[11.8,1.28]]
const water = [[65.6,2.39],[72.3,1.45],[2.10,1.80],[1.62,1.74],[5.0,1.24],[8.5,1.30],[12.0,1.21],[18.0,1.28],[3.0,1.33],
  [0.9,1.35],[2.3,1.22],[6.8,1.21],[10.2,1.26],[1.3,1.34],[4.5,1.42],[7.8,1.24],[14.0,1.27]]
const education = [[23.4,2.86],[9.57,1.24],[6.8,1.32],[15.0,1.25],[10.0,1.47],[2.8,1.22],[20.5,1.20],[25.0,1.28],
  [1.6,1.30],[4.2,1.21],[8.2,1.22],[12.8,1.24],[1.0,1.24],[3.4,1.36],[5.5,1.30],[9.5,1.32],[17.5,1.22]]

const sectors = [
  'Wholesale and retail trade; repair of motor\nvehicles and motorcycles',
  'Manufacturing',
  'Information and communication',
  'Mining and quarrying',
  'Professional; Administrative and support service\nactivities',
  'Electricity',
  'Agriculture',
  'Construction',
  'Real estate activities',
  'Human health and social work activities',
  'Transportation and storage',
  'Arts; Other service activities',
  'Public administration and defence; compulsory\nsocial security',
  'Accommodation and food service activities',
  'Water supply; sewerage',
  'Education'
]
const series = [wholesale, manufacturing, information, mining, professional, electricity, agriculture,
  construction, realEstate, health, transportation, arts, publicAdmin, accommodation, water, education]

const xTicks = [1e-5, 1e-4, 1e-3]
const yTicks = [1e-4, 1e-3]

// seaborn style markers, one per sector
const markers = [
  {type: 'circle'}, {type: 'x'}, {type: 'poly', n: 4, rot: 45}, {type: 'plus'},
  {type: 'poly', n: 4, rot: 0}, {type: 'star', n: 4, rot: 0}, {type: 'tri', rot: 0}, {type: 'star', n: 4, rot: 45},
  {type: 'tri', rot: 180}, {type: 'star', n: 6, rot: 30}, {type: 'poly', n: 6, rot: 30}, {type: 'star', n: 5, rot: 0},
  {type: 'poly', n: 5, rot: 0}, {type: 'star', n: 7, rot: 360 / 14}, {type: 'poly', n: 7, rot: 360 / 14}, {type: 'star', n: 6, rot: 0}
]
// hls palette
const colors = sectors.map((d, i) => d3.hsl((i / sectors.length + 0.01) * 360, 0.65, 0.6).formatHex())

// set the dimensions of the figure and the plot box
const width = 2597, height = 2109
const box = {left: 461, right: 2136, top: 46, bottom: 1256}

const x = d3.scaleLog()
    .domain([10 ** -5.2436, 10 ** -2.1553])
    .range([box.left, box.right])
const y = d3.scaleLog()
    .domain([10 ** -4.0911, 10 ** -2.1052])
    .range([box.bottom, box.top])

const svg = d3.select('body').append('svg')
    .attr('width', width)
    .attr('height', height)

svg.append('defs').append('clipPath')
    .attr('id', 'clip')
    .append('rect')
    .attr('x', box.left).attr('y', box.top)
    .attr('width', box.right - box.left).attr('height', box.bottom - box.top)

function polar(r, deg) {
    const a = deg * Math.PI / 180
    return [r * Math.cos(a), -r * Math.sin(a)]
}
function turn(p, deg) {
    const a = deg * Math.PI / 180
    return [p[0] * Math.cos(a) - p[1] * Math.sin(a), -(p[0] * Math.sin(a) + p[1] * Math.cos(a))]
}
const plusShape = [[-1,-3],[1,-3],[1,-1],[3,-1],[3,1],[1,1],[1,3],[-1,3],[-1,1],[-3,1],[-3,-1],[-1,-1]]
const xShape = [[-1,-2],[0,-1],[1,-2],[2,-1],[1,0],[2,1],[1,2],[0,1],[-1,2],[-2,1],[-1,0],[-2,-1]]

function markerPath(m, r) {
    let pts
    if (m.type === 'circle') return `M${r},0A${r},${r} 0 1,1 ${-r},0A${r},${r} 0 1,1 ${r},0Z`
    if (m.type === 'poly') pts = d3.range(m.n).map(k => polar(r, 90 + m.rot + k * 360 / m.n))
    if (m.type === 'star') pts = d3.range(2 * m.n).map(k => polar(k % 2 ? r * 0.5 : r, 90 + m.rot + k * 180 / m.n))
    if (m.type === 'plus') pts = plusShape.map(p => [p[0] * r / 3, -p[1] * r / 3])
    if (m.type === 'x') pts = xShape.map(p => [p[0] * r / 2, -p[1] * r / 2])
    if (m.type === 'tri') pts = [[0, 1], [-1, -1], [1, -1]].map(p => turn([p[0] * r, p[1] * r], m.rot))
    return 'M' + pts.map(p => p[0].toFixed(2) + ',' + p[1].toFixed(2)).join('L') + 'Z'
}

// grid lines
const xGrid = svg.append('g')
    .attr('transform', 'translate(0,' + box.bottom + ')')
    .call(d3.axisBottom(x).tickValues(xTicks).tickSize(-(box.bottom - box.top)).tickFormat(''))
const yGrid = svg.append('g')
    .attr('transform', 'translate(' + box.left + ',0)')
    .call(d3.axisLeft(y).tickValues(yTicks).tickSize(-(box.right - box.left)).tickFormat(''))
svg.selectAll('.domain').remove()
svg.selectAll('.tick line')
    .attr('stroke', '#cccccc')
    .attr('stroke-width', 4)

// tick labels as 10 with a superscript exponent
function tickLabel(sel) {
    sel.append('tspan').text('10')
    sel.append('tspan')
        .attr('font-size', 40)
        .attr('dy', -19)
        .text(d => '\u2212' + Math.round(-Math.log10(d)))
}
xGrid.selectAll('.tick').append('text')
    .attr('y', 83)
    .attr('text-anchor', 'middle')
    .attr('font-size', 57)
    .call(tickLabel)
yGrid.selectAll('.tick').append('text')
    .attr('x', -55)
    .attr('y', 21)
    .attr('text-anchor', 'end')
    .attr('font-size', 57)
    .call(tickLabel)

// points, interleaved so every sector is spread through the drawing order
const points = []
series.forEach((s, i) => s.forEach((d, j) => {
    points.push({sector: i, ex: d[0] * 1e-5, ey: d[1] * 1e-4, order: (j + 0.5) / s.length})
}))
points.sort((a, b) => a.order - b.order)

svg.append('g')
    .attr('clip-path', 'url(#clip)')
    .selectAll('path')
    .data(points)
    .enter().append('path')
    .attr('transform', d => 'translate(' + x(d.ex).toFixed(1) + ',' + y(d.ey).toFixed(1) + ')')
    .attr('d', d => markerPath(markers[d.sector], 12))
    .attr('fill', d => colors[d.sector])
    .attr('fill-opacity', 0.52)
    .attr('stroke', d => colors[d.sector])
    .attr('stroke-opacity', 0.52)
    .attr('stroke-width', 1.5)

// y = x reference line
const lo = Math.max(x.domain()[0], y.domain()[0])
const hi = Math.min(x.domain()[1], y.domain()[1])
svg.append('line')
    .attr('clip-path', 'url(#clip)')
    .attr('x1', x(lo)).attr('y1', y(lo))
    .attr('x2', x(hi)).attr('y2', y(hi))
    .attr('stroke', '#a8a8a8')
    .attr('stroke-width', 6)
    .attr('stroke-dasharray', '24,10')

// frame
svg.append('rect')
    .attr('x', box.left).attr('y', box.top)
    .attr('width', box.right - box.left).attr('height', box.bottom - box.top)
    .attr('fill', 'none')
    .attr('stroke', '#cccccc')
    .attr('stroke-width', 4)

// axis titles
svg.append('g')
    .attr('transform', 'translate(' + (box.left + box.right) / 2 + ',1433) scale(1.04,1)')
    .append('text')
    .attr('text-anchor', 'middle')
    .attr('font-size', 76)
    .text('Empirical influence')
svg.append('g')
    .attr('transform', 'translate(260,' + (box.top + box.bottom) / 2 + ') rotate(-90) scale(1.04,1)')
    .append('text')
    .attr('text-anchor', 'middle')
    .attr('font-size', 76)
    .text('Expected influence')

// legend in two columns
const legendCols = [
    {markerX: 109, textX: 189, items: d3.range(0, 8)},
    {markerX: 1406, textX: 1486, items: d3.range(8, 16)}
]
const lineGap = 49
legendCols.forEach(col => {
    let cy = 1524, prevExtra = 0
    col.items.forEach((i, k) => {
        const lines = sectors[i].split('\n')
        const extra = lines.length - 1
        if (k > 0) cy += 62 + 22.5 * (prevExtra + extra)
        prevExtra = extra
        svg.append('path')
            .attr('transform', 'translate(' + col.markerX + ',' + cy + ')')
            .attr('d', markerPath(markers[i], 22))
            .attr('fill', colors[i])
        const label = svg.append('g')
            .attr('transform', 'translate(' + col.textX + ',' + (cy + 12 - extra * (5.5 + lineGap / 2)) + ') scale(1.265,1)')
            .append('text')
            .attr('font-size', 44)
        lines.forEach((line, l) => {
            label.append('tspan')
                .attr('x', 0)
                .attr('dy', l === 0 ? 0 : lineGap)
                .text(line)
        })
    })
})
</script>
</body>
</html>
